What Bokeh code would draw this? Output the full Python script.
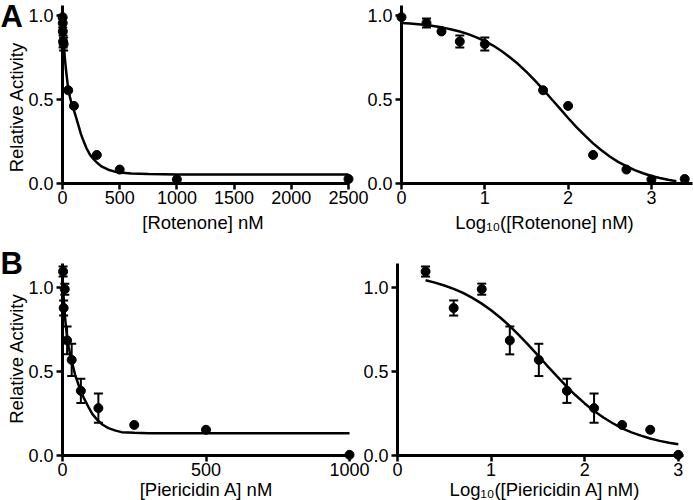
from math import pi
from bokeh.plotting import figure
from bokeh.models import (ColumnDataSource, FixedTicker, PrintfTickFormatter, Label,
                          Whisker, TeeHead, Range1d, LinearAxis)
from bokeh.embed import file_html
from bokeh.resources import INLINE

FONT = "Liberation Sans"

# ---------------- data ----------------
# Panel A: rotenone
rot_nM = [1, 2, 3, 5, 10, 50, 100, 300, 500, 1000, 2500]
rot_log = [0.0, 0.30, 0.48, 0.70, 1.00, 1.70, 2.00, 2.30, 2.70, 3.00, 3.40]
rot_activity = [0.99, 0.955, 0.905, 0.845, 0.83, 0.555, 0.462, 0.17, 0.083, 0.024, 0.027]
rot_err = [0, 0.027, 0, 0.036, 0.039, 0, 0, 0, 0, 0, 0]

rot_fit_nM = [0, 5, 11, 20, 30, 40, 50, 65, 80, 100, 120, 140, 160, 183, 210, 240,
              270, 300, 340, 400, 450, 500, 600, 750, 1000, 1500, 2500]
rot_fit_nM_act = [0.98, 0.90, 0.83, 0.75, 0.68, 0.62, 0.565, 0.515, 0.475, 0.435, 0.39,
                  0.345, 0.297, 0.254, 0.21, 0.172, 0.146, 0.125, 0.102, 0.082, 0.072,
                  0.065, 0.059, 0.056, 0.054, 0.054, 0.054]

rot_fit_log = [0.0, 0.1, 0.2, 0.3, 0.4, 0.5, 0.6, 0.7, 0.8, 0.9, 1.0, 1.1, 1.2, 1.3,
               1.4, 1.5, 1.6, 1.7, 1.8, 1.9, 2.0, 2.1, 2.2, 2.3, 2.4, 2.5, 2.6, 2.7,
               2.8, 2.9, 3.0, 3.1, 3.2, 3.3]
rot_fit_log_act = [0.956, 0.953, 0.948, 0.943, 0.936, 0.928, 0.917, 0.905, 0.889, 0.870,
                   0.847, 0.821, 0.789, 0.752, 0.711, 0.664, 0.614, 0.560, 0.503, 0.447,
                   0.390, 0.336, 0.286, 0.239, 0.198, 0.161, 0.129, 0.103, 0.080, 0.061,
                   0.045, 0.033, 0.022, 0.014]

# Panel B: piericidin A
pie_nM = [2, 4, 8, 16, 32, 64, 125, 250, 500, 1000]
pie_log = [0.30, 0.60, 0.90, 1.20, 1.51, 1.81, 2.10, 2.40, 2.70, 3.00]
pie_activity = [1.095, 0.878, 0.99, 0.685, 0.569, 0.385, 0.282, 0.182, 0.153, 0.004]
pie_err = [0.03, 0.045, 0.033, 0.083, 0.096, 0.072, 0.087, 0, 0, 0]

pie_fit_nM = [0, 4, 10, 15, 22, 30, 44, 61, 75, 90, 105, 123, 140, 160, 185, 206,
              250, 300, 400, 600, 1000]
pie_fit_nM_act = [1.07, 0.94, 0.80, 0.72, 0.64, 0.575, 0.48, 0.395, 0.34, 0.29, 0.245,
                  0.208, 0.183, 0.163, 0.148, 0.139, 0.135, 0.133, 0.133, 0.133, 0.133]

pie_fit_log = [0.3, 0.4, 0.5, 0.6, 0.7, 0.8, 0.9, 1.0, 1.1, 1.2, 1.3, 1.4, 1.5, 1.6,
               1.7, 1.8, 1.9, 2.0, 2.1, 2.2, 2.3, 2.4, 2.5, 2.6, 2.7, 2.8, 2.9, 3.0]
pie_fit_log_act = [1.043, 1.029, 1.012, 0.992, 0.968, 0.938, 0.904, 0.865, 0.820, 0.770,
                   0.715, 0.657, 0.596, 0.534, 0.474, 0.415, 0.360, 0.310, 0.265, 0.226,
                   0.192, 0.162, 0.138, 0.118, 0.101, 0.087, 0.076, 0.067]

y_ticks = [0.0, 0.5, 1.0]
rot_lin_ticks = [0, 500, 1000, 1500, 2000, 2500]
pie_lin_ticks = [0, 500, 1000]
log_ticks = [0, 1, 2, 3]

y_title = "Relative Activity"
titles = ["[Rotenone] nM", "Log\u2081\u2080([Rotenone] nM)",
          "[Piericidin A] nM", "Log\u2081\u2080([Piericidin A] nM)"]

# ---------------- one canvas, four panels with their own ranges/axes ----------------
W, H = 693, 500
p = figure(frame_width=W, frame_height=H, min_border=0,
           x_range=Range1d(0, W), y_range=Range1d(0, H),
           x_axis_location=None, y_axis_location=None,
           output_backend="svg", toolbar_location=None, tools="")
p.outline_line_color = None
p.background_fill_color = "white"
p.border_fill_color = "white"
p.xgrid.visible = False
p.ygrid.visible = False

# panel geometry: page pixel of data 0 (X0, Y0) and pixels per data unit (xs, ys)
panels = {
    "a1": dict(X0=62, xs=286 / 2500, Y0=183, ys=168),
    "a2": dict(X0=401, xs=83.3, Y0=183, ys=168),
    "b1": dict(X0=62, xs=287 / 1000, Y0=455, ys=168),
    "b2": dict(X0=397, xs=93.6, Y0=455, ys=168),
}
xr, yr = {}, {}
for name, g in panels.items():
    xr[name] = Range1d((0 - g["X0"]) / g["xs"], (W - g["X0"]) / g["xs"])
    yr[name] = Range1d((g["Y0"] - H) / g["ys"], g["Y0"] / g["ys"])
p.extra_x_ranges = xr
p.extra_y_ranges = yr


def style_axis(ax):
    ax.fixed_location = 0
    ax.axis_line_width = 3
    ax.axis_line_color = "black"
    ax.major_tick_line_width = 2.5
    ax.major_tick_line_color = "black"
    ax.major_tick_out = 6
    ax.major_tick_in = 0
    ax.minor_tick_in = 0
    ax.minor_tick_out = 0
    ax.major_label_text_font = FONT
    ax.major_label_text_font_size = "18px"
    ax.major_label_text_color = "black"


def add_axes(name, xbounds, ybounds, xticks):
    xa = LinearAxis(x_range_name=name, y_range_name=name, bounds=xbounds,
                    ticker=FixedTicker(ticks=xticks),
                    formatter=PrintfTickFormatter(format="%d"))
    style_axis(xa)
    xa.major_label_standoff = 1
    p.add_layout(xa, "below")
    ya = LinearAxis(x_range_name=name, y_range_name=name, bounds=ybounds,
                    ticker=FixedTicker(ticks=y_ticks),
                    formatter=PrintfTickFormatter(format="%.1f"))
    style_axis(ya)
    ya.major_label_standoff = 3
    p.add_layout(ya, "left")


def add_data(name, xs, ys, errs, fit_x, fit_y):
    p.line(fit_x, fit_y, line_width=2.5, line_color="black",
           x_range_name=name, y_range_name=name)
    wx = [x for x, e in zip(xs, errs) if e > 0]
    wu = [y + e for y, e in zip(ys, errs) if e > 0]
    wl = [y - e for y, e in zip(ys, errs) if e > 0]
    wsrc = ColumnDataSource(dict(x=wx, upper=wu, lower=wl))
    p.add_layout(Whisker(source=wsrc, base="x", upper="upper", lower="lower",
                         dimension="height", line_width=2, line_color="black",
                         x_range_name=name, y_range_name=name,
                         upper_head=TeeHead(size=9, line_width=2, line_color="black"),
                         lower_head=TeeHead(size=9, line_width=2, line_color="black")))
    p.scatter(xs, ys, size=9, marker="circle", fill_color="black", line_color="black",
              x_range_name=name, y_range_name=name)


BASE_SHIFT = 0.3  # measured offset of the rendered alphabetic baseline (in em)


def add_text(text, px, py, size, angle=0.0, align="center", bold=False):
    # px, py: page pixels of the text anchor (baseline)
    if angle == 0.0:
        py = py - BASE_SHIFT * size
    else:
        px = px - BASE_SHIFT * size
    p.add_layout(Label(x=px, y=H - py, x_units="screen", y_units="screen",
                       text=text, text_font=FONT, text_font_size=f"{size}px",
                       text_font_style="bold" if bold else "normal",
                       text_align=align, text_baseline="alphabetic", angle=angle,
                       text_color="black"))


add_axes("a1", (0, 2500), (0, 1.06), rot_lin_ticks)
add_axes("a2", (0, 3.49), (0, 1.06), log_ticks)
add_axes("b1", (0, 1000), (0, 1.14), pie_lin_ticks)
add_axes("b2", (0, 3.06), (0, 1.14), log_ticks)

add_data("a1", rot_nM, rot_activity, rot_err, rot_fit_nM, rot_fit_nM_act)
add_data("a2", rot_log, rot_activity, rot_err, rot_fit_log, rot_fit_log_act)
add_data("b1", pie_nM, pie_activity, pie_err, pie_fit_nM, pie_fit_nM_act)
add_data("b2", pie_log, pie_activity, pie_err, pie_fit_log, pie_fit_log_act)

TS = 18.5
add_text(titles[0], 202.5, 228, TS)
add_text(titles[1], 544, 228, TS)
add_text(titles[2], 206, 495, TS)
add_text(titles[3], 544.5, 495, TS)
add_text(y_title, 22, 106.5, TS, angle=pi / 2)
add_text(y_title, 22, 358, TS, angle=pi / 2)
add_text("A", 0, 25, 31, align="left", bold=True)
add_text("B", 0, 272, 31, align="left", bold=True)

open("out.html", "w").write(file_html(p, INLINE))
